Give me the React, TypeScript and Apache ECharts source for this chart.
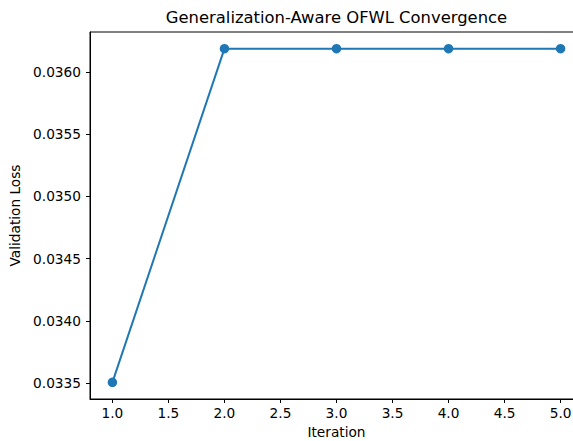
import React, { useEffect, useRef } from "react";
import * as echarts from "echarts";

const iterations = [1, 2, 3, 4, 5];
const validationLoss = [0.033506, 0.036186, 0.036186, 0.036186, 0.036186];
const xTicks = [1.0, 1.5, 2.0, 2.5, 3.0, 3.5, 4.0, 4.5, 5.0];
const yTicks = [0.0335, 0.034, 0.0345, 0.035, 0.0355, 0.036];
const titleText = "Generalization-Aware OFWL Convergence";
const xName = "Iteration";
const yName = "Validation Loss";

const FONT = "DejaVu Sans";

export default function App() {
  const ref = useRef<HTMLDivElement>(null);
  useEffect(() => {
    if (!ref.current) return;
    const chart = echarts.init(ref.current, undefined, { renderer: "svg" });
    const yMin = 0.033372;
    const yMax = 0.03632;
    chart.setOption({
      animation: false,
      backgroundColor: "#ffffff",
      textStyle: { fontFamily: FONT },
      graphic: [
        {
          type: "text",
          x: 336.5,
          y: 17.5,
          style: {
            text: titleText,
            font: `16.4px '${FONT}'`,
            fill: "#000",
            textAlign: "center",
            textVerticalAlign: "middle",
          },
        },
      ],
      grid: {
        left: 90,
        top: 32,
        right: -10,
        bottom: 42,
        show: true,
        borderColor: "#000",
        borderWidth: 1,
        containLabel: false,
        outerBoundsMode: "none",
      },
      xAxis: {
        type: "value",
        min: 0.8,
        max: 5.2,
        name: xName,
        nameLocation: "middle",
        nameGap: 25,
        nameTextStyle: { fontSize: 13.7, color: "#000", fontFamily: FONT },
        axisLine: { show: true, lineStyle: { color: "#000", width: 1 } },
        axisTick: {
          show: true,
          inside: false,
          length: 4,
          lineStyle: { color: "#000", width: 1 },
          customValues: xTicks,
        },
        axisLabel: {
          show: true,
          margin: 7,
          fontSize: 13.7,
          color: "#000",
          fontFamily: FONT,
          customValues: xTicks,
          formatter: (v: number) => v.toFixed(1),
        },
        splitLine: { show: false },
      },
      yAxis: {
        type: "value",
        min: yMin,
        max: yMax,
        name: yName,
        nameLocation: "middle",
        nameGap: 64,
        nameTextStyle: { fontSize: 13.7, color: "#000", fontFamily: FONT },
        axisLine: { show: true, lineStyle: { color: "#000", width: 1 } },
        axisTick: {
          show: true,
          inside: false,
          length: 4,
          lineStyle: { color: "#000", width: 1 },
          customValues: yTicks,
        },
        axisLabel: {
          show: true,
          margin: 9,
          fontSize: 13.7,
          color: "#000",
          fontFamily: FONT,
          customValues: yTicks,
          formatter: (v: number) => v.toFixed(4),
        },
        splitLine: { show: false },
      },
      series: [
        {
          type: "line",
          data: iterations.map((x, i) => [x, validationLoss[i]]),
          symbol: "circle",
          symbolSize: 9.5,
          lineStyle: { color: "#1f77b4", width: 2 },
          itemStyle: { color: "#1f77b4", borderWidth: 0 },
          clip: false,
        },
      ],
    });
    return () => chart.dispose();
  }, []);
  return (
    <div
      ref={ref}
      style={{ position: "fixed", left: 0, top: 0, width: 573, height: 441, overflow: "hidden" }}
    />
  );
}
